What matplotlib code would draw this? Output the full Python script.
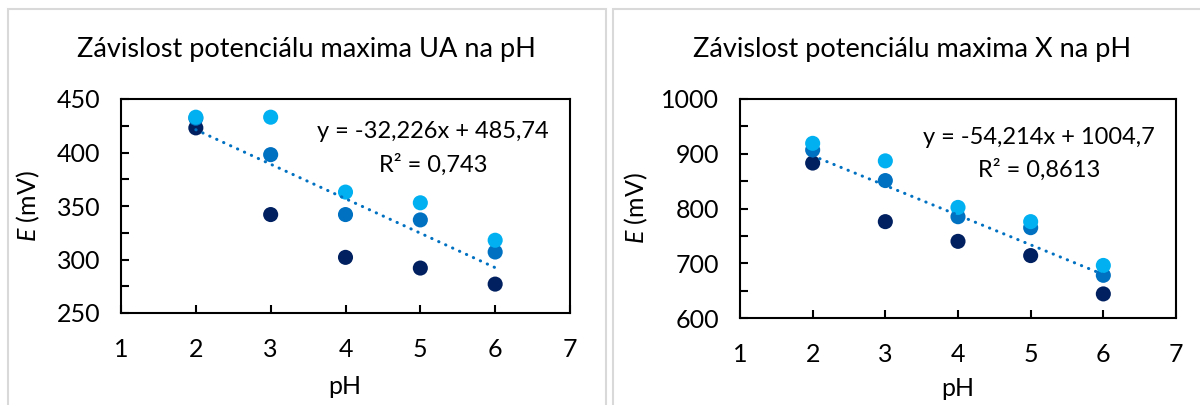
import matplotlib
matplotlib.use("Agg")
import matplotlib.pyplot as plt
from matplotlib.patches import Rectangle
import numpy as np

plt.rcParams['font.family'] = ['Lato', 'DejaVu Sans']
plt.rcParams['mathtext.fontset'] = 'custom'
plt.rcParams['mathtext.it'] = 'Lato:italic'
plt.rcParams['mathtext.rm'] = 'Lato'

ph = [2, 3, 4, 5, 6]

# Chart 1: UA
ua_dark = [423, 342, 302, 292, 277]
ua_medium = [432, 398, 342, 337, 307]
ua_light = [433, 433, 363, 353, 318]
ua_fit = [-32.226, 485.74]
ua_eq = "y = -32,226x + 485,74"
ua_r2 = "R² = 0,743"
ua_title = "Závislost potenciálu maxima UA na pH"

# Chart 2: X
x_dark = [883, 776, 740, 714, 644]
x_medium = [907, 851, 785, 765, 678]
x_light = [919, 887, 802, 776, 696]
x_fit = [-54.214, 1004.7]
x_eq = "y = -54,214x + 1004,7"
x_r2 = "R² = 0,8613"
x_title = "Závislost potenciálu maxima X na pH"

c_dark = '#002060'
c_med = '#0070C0'
c_light = '#00B0F0'

W, H = 1200, 405
fig = plt.figure(figsize=(W / 100, H / 100), dpi=100)

# panel borders
for (x0, x1) in [(8, 606), (613, 1215)]:
    fig.patches.append(Rectangle((x0 / W, -0.1), (x1 - x0) / W, (H - 9) / H + 0.1,
                                 transform=fig.transFigure, fill=False,
                                 edgecolor='#d9d9d9', linewidth=1.5))


def make(rect, dark, med, light, fit, eq, r2, title, ylim, major, minor,
         title_x, eq_x, eq_y, r2_y, ylab_x, xlab_y, xlab_x):
    ax = fig.add_axes(rect)
    for vals, col in [(dark, c_dark), (med, c_med), (light, c_light)]:
        ax.scatter(ph, vals, s=118, color=col, edgecolors='none', zorder=3)
    xs = np.array([ph[0], ph[-1]])
    ax.plot(xs, fit[0] * xs + fit[1], color=c_med, lw=2.2,
            linestyle=(0, (0.1, 2.4)), dash_capstyle='round', zorder=4)
    ax.set_xlim(1, 7)
    ax.set_ylim(*ylim)
    ax.set_xticks(range(1, 8))
    ax.set_yticks(np.arange(ylim[0], ylim[1] + 1, major))
    ax.set_yticks(np.arange(ylim[0], ylim[1] + 1, minor), minor=True)
    ax.tick_params(axis='both', direction='in', length=6, width=1.5,
                   labelsize=18, colors='black')
    ax.tick_params(axis='y', which='minor', direction='in', length=6, width=1.5)
    ax.tick_params(axis='y', which='major', pad=15)
    ax.tick_params(axis='x', pad=18)
    for sp in ax.spines.values():
        sp.set_linewidth(1.5)
    ax.set_ylabel(r'$\mathit{E}$ (mV)', fontsize=18)
    ax.yaxis.set_label_coords(ylab_x, 0.5)
    fig.text(xlab_x / W, 1 - xlab_y / H, 'pH', fontsize=18, ha='center', va='center')
    fig.text(title_x / W, 1 - 50 / H, title, fontsize=19.5, ha='center', va='center')
    fig.text(eq_x / W, 1 - eq_y / H, eq, fontsize=17, ha='center', va='center')
    fig.text(eq_x / W, 1 - r2_y / H, r2, fontsize=17, ha='center', va='center')
    return ax


make([121 / W, (H - 313) / H, 449 / W, 214 / H], ua_dark, ua_medium, ua_light,
     ua_fit, ua_eq, ua_r2, ua_title, (250, 450), 50, 25,
     306, 433, 132, 165, -0.176, 387, 345)
make([740 / W, (H - 318) / H, 436 / W, 219 / H], x_dark, x_medium, x_light,
     x_fit, x_eq, x_r2, x_title, (600, 1000), 100, 50,
     912, 1039, 137, 170, -0.206, 389, 958)

fig.savefig('out.png', dpi=100)
